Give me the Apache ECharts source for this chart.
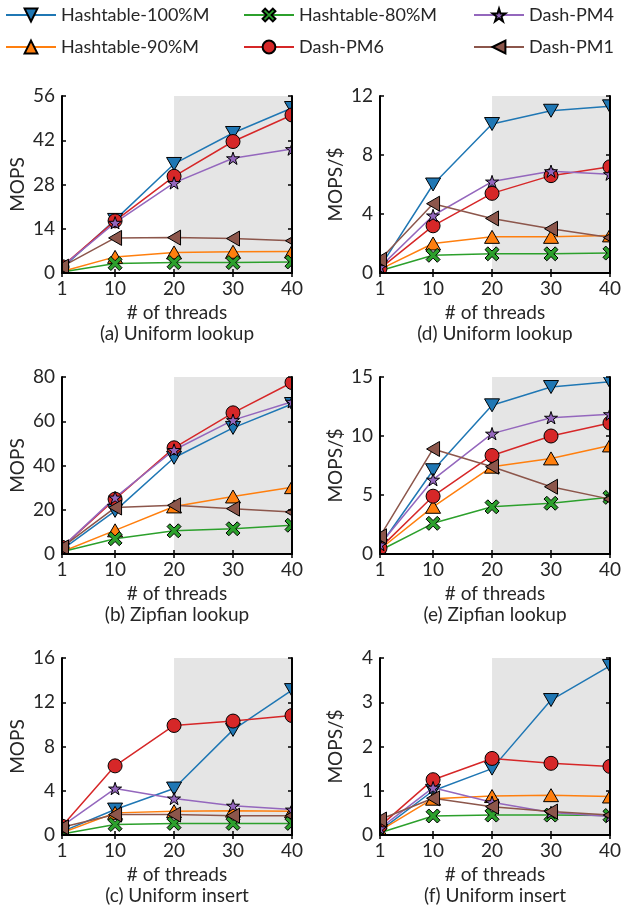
<!DOCTYPE html>
<html><head><meta charset="utf-8">
<script src="https://cdn.jsdelivr.net/npm/echarts@6/dist/echarts.min.js"></script>
<style>html,body{margin:0;padding:0;background:#fff}#c{width:624px;height:914px}</style>
</head><body><div id="c"></div>
<script>
// ---------------- data ----------------
const threads = [1, 10, 20, 30, 40];
const xTicks = [1, 10, 20, 30, 40];
const seriesNames = ['Hashtable-100%M', 'Hashtable-90%M', 'Hashtable-80%M', 'Dash-PM6', 'Dash-PM4', 'Dash-PM1'];
const shadeRange = [20, 40];
const xName = '# of threads';

// (a) Uniform lookup - MOPS
const aH100 = [1.5, 16.8, 34.5, 44.3, 52.2];
const aH90  = [0.5, 5.1, 6.5, 6.7, 6.8];
const aH80  = [0.3, 3.0, 3.3, 3.3, 3.5];
const aPM6  = [2.0, 16.5, 30.6, 41.6, 50.0];
const aPM4  = [2.0, 15.9, 28.5, 36.3, 39.2];
const aPM1  = [2.0, 11.1, 11.2, 10.9, 10.2];

// (d) Uniform lookup - MOPS/$
const dH100 = [0.4, 6.0, 10.1, 11.0, 11.3];
const dH90  = [0.25, 2.0, 2.45, 2.45, 2.55];
const dH80  = [0.15, 1.2, 1.3, 1.3, 1.35];
const dPM6  = [0.3, 3.2, 5.4, 6.6, 7.2];
const dPM4  = [0.4, 3.9, 6.2, 6.9, 6.7];
const dPM1  = [0.9, 4.7, 3.7, 3.0, 2.4];

// (b) Zipfian lookup - MOPS
const bH100 = [2, 19.5, 43.5, 57, 67.8];
const bH90  = [1, 10.7, 21.5, 26, 30.2];
const bH80  = [1, 6.9, 10.5, 11.4, 13];
const bPM6  = [3, 24.8, 48, 63.8, 77.5];
const bPM4  = [3, 25.5, 47, 60.5, 68.8];
const bPM1  = [3, 21, 22, 20.5, 19];

// (e) Zipfian lookup - MOPS/$
const eH100 = [0.7, 7.1, 12.6, 14.15, 14.6];
const eH90  = [0.4, 4.0, 7.4, 8.1, 9.2];
const eH80  = [0.3, 2.6, 4.0, 4.3, 4.8];
const ePM6  = [0.5, 4.9, 8.35, 10.0, 11.1];
const ePM4  = [0.8, 6.3, 10.2, 11.55, 11.85];
const ePM1  = [1.5, 8.9, 7.4, 5.7, 4.65];

// (c) Uniform insert - MOPS
const cH100 = [0.3, 2.3, 4.2, 9.5, 13.1];
const cH90  = [0.2, 2.0, 2.15, 2.2, 2.15];
const cH80  = [0.1, 0.95, 1.05, 1.05, 1.05];
const cPM6  = [0.8, 6.25, 9.9, 10.3, 10.8];
const cPM4  = [0.8, 4.2, 3.3, 2.65, 2.3];
const cPM1  = [0.7, 1.85, 1.85, 1.75, 1.75];

// (f) Uniform insert - MOPS/$
const fH100 = [0.1, 1.0, 1.5, 3.05, 3.82];
const fH90  = [0.1, 0.82, 0.88, 0.9, 0.87];
const fH80  = [0.05, 0.43, 0.45, 0.45, 0.44];
const fPM6  = [0.2, 1.25, 1.73, 1.62, 1.55];
const fPM4  = [0.15, 1.07, 0.74, 0.51, 0.42];
const fPM1  = [0.35, 0.83, 0.64, 0.53, 0.45];

const captions = ['(a) Uniform lookup', '(d) Uniform lookup', '(b) Zipfian lookup', '(e) Zipfian lookup', '(c) Uniform insert', '(f) Uniform insert'];
const yNames = ['MOPS', 'MOPS/$', 'MOPS', 'MOPS/$', 'MOPS', 'MOPS/$'];
const yMaxes = [56, 12, 80, 15, 16, 4];
const ySteps = [14, 4, 20, 5, 4, 1];
const panelData = [
  [aH100, aH90, aH80, aPM6, aPM4, aPM1],
  [dH100, dH90, dH80, dPM6, dPM4, dPM1],
  [bH100, bH90, bH80, bPM6, bPM4, bPM1],
  [eH100, eH90, eH80, ePM6, ePM4, ePM1],
  [cH100, cH90, cH80, cPM6, cPM4, cPM1],
  [fH100, fH90, fH80, fPM6, fPM4, fPM1]
];

// ---------------- styles / layout ----------------
const FONT = 'Lato';
const TXT = '#262626';
const FS = 19;
const colors = ['#1f77b4', '#ff7f0e', '#2ca02c', '#d62728', '#9467bd', '#8c564b'];
const STAR = 'path://M10,0L12.245,6.91L19.51,6.91L13.633,11.18L15.88,18.09L10,13.82L4.12,18.09L6.367,11.18L0.49,6.91L7.755,6.91Z';
const XMARK = 'path://M2,0L5,3L8,0L10,2L7,5L10,8L8,10L5,7L2,10L0,8L3,5L0,2Z';
const symbols = [
  'path://M0,0L20,0L10,17.3Z',
  'path://M10,0L20,17.3L0,17.3Z',
  XMARK,
  'circle',
  STAR,
  'path://M0,10L17.3,0L17.3,20Z'
];
const symSizes = [15, 15, 14, 14, 13, 15];

const colLeft = [62, 380];
const rowTop = [96, 377, 658];
const GW = 230, GH = 177;

const grids = [], xAxes = [], yAxes = [], series = [], titles = [], graphics = [];
for (let p = 0; p < 6; p++) {
  const col = p % 2, row = Math.floor(p / 2);
  const L = colLeft[col], T = rowTop[row];
  grids.push({ left: L, top: T, width: GW, height: GH });
  const axLine = { show: true, lineStyle: { color: '#000', width: 2 } };
  const tick = { show: true, inside: true, length: 4, lineStyle: { color: '#000', width: 1.5 } };
  xAxes.push({
    type: 'value', gridIndex: p, min: 1, max: 40, position: 'bottom', z: 10,
    axisLine: axLine, axisTick: Object.assign({}, tick, { customValues: xTicks }),
    axisLabel: { customValues: xTicks, color: TXT, fontFamily: FONT, fontSize: FS, margin: 6 },
    splitLine: { show: false },
    name: xName, nameLocation: 'middle', nameGap: 30,
    nameTextStyle: { color: TXT, fontFamily: FONT, fontSize: FS }
  });
  xAxes.push({
    type: 'value', gridIndex: p, min: 1, max: 40, position: 'top', z: 10,
    axisLine: axLine, axisTick: Object.assign({}, tick, { customValues: xTicks }),
    axisLabel: { show: false }, splitLine: { show: false }
  });
  yAxes.push({
    type: 'value', gridIndex: p, min: 0, max: yMaxes[p], interval: ySteps[p], position: 'left', z: 10,
    axisLine: axLine, axisTick: tick,
    axisLabel: { color: TXT, fontFamily: FONT, fontSize: FS, margin: 7 },
    splitLine: { show: false },
    name: yNames[p], nameLocation: 'middle', nameGap: 35, nameRotate: 90,
    nameTextStyle: { color: TXT, fontFamily: FONT, fontSize: FS }
  });
  yAxes.push({
    type: 'value', gridIndex: p, min: 0, max: yMaxes[p], interval: ySteps[p], position: 'right', z: 10,
    axisLine: axLine, axisTick: tick, axisLabel: { show: false }, splitLine: { show: false }
  });
  // shaded region
  series.push({
    type: 'line', xAxisIndex: 2 * p, yAxisIndex: 2 * p, data: [], z: 1, silent: true,
    markArea: { silent: true, itemStyle: { color: '#e5e5e5' }, data: [[{ xAxis: shadeRange[0] }, { xAxis: shadeRange[1] }]] }
  });
  panelData[p].forEach((vals, i) => {
    series.push({
      type: 'line', name: seriesNames[i], xAxisIndex: 2 * p, yAxisIndex: 2 * p,
      data: threads.map((t, k) => [t, vals[k]]),
      symbol: symbols[i], symbolSize: symSizes[i], symbolKeepAspect: true,
      smooth: false,
      lineStyle: { color: colors[i], width: 1.5 },
      itemStyle: { color: colors[i], borderColor: '#000', borderWidth: 1 },
      z: 2, animation: false
    });
  });
  titles.push({
    text: captions[p], left: L + GW / 2, top: T + GH + 51, textAlign: 'center', padding: 0,
    textStyle: { color: TXT, fontFamily: FONT, fontSize: FS, fontWeight: 'normal' }
  });
  // white strips to clip markers at the frame edges
  const S = 9;
  [[L - S, T - S, S, GH + 2 * S], [L + GW, T - S, S, GH + 2 * S], [L - S, T - S, GW + 2 * S, S], [L - S, T + GH, GW + 2 * S, S]].forEach(r => {
    graphics.push({ type: 'rect', z: 5, silent: true, shape: { x: r[0], y: r[1], width: r[2], height: r[3] }, style: { fill: '#fff' } });
  });
}

const legendCols = [[0, 1], [2, 3], [4, 5]];
const legendLeft = [5, 243, 473];
const legends = legendCols.map((idx, c) => ({
  orient: 'vertical', left: legendLeft[c], top: 5, padding: 0,
  itemWidth: 50, itemHeight: 16, itemGap: 12,
  data: idx.map(i => seriesNames[i]),
  textStyle: { color: TXT, fontFamily: FONT, fontSize: 18, lineHeight: 20 }
}));

const chart = echarts.init(document.getElementById('c'), null, { renderer: 'canvas' });
chart.setOption({
  animation: false,
  backgroundColor: '#fff',
  title: titles,
  legend: legends,
  grid: grids,
  xAxis: xAxes,
  yAxis: yAxes,
  series: series,
  graphic: graphics
});
</script>
</body></html>
